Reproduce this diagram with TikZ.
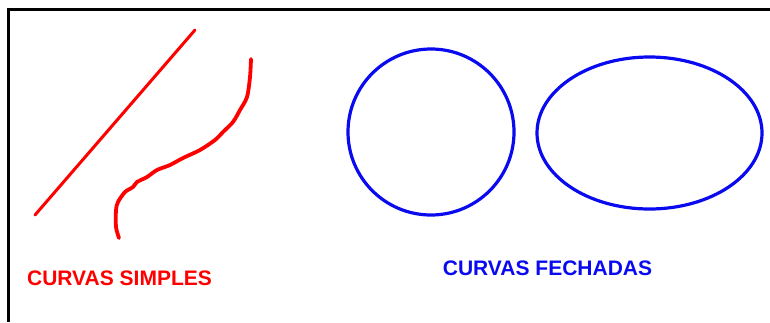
\documentclass[tikz,border=0pt]{standalone}
\usepackage{fontspec}
\setmainfont{Liberation Sans}
\definecolor{cred}{RGB}{255,0,0}
\definecolor{cblue}{RGB}{10,10,240}
\tikzset{
  redline/.style={draw=cred, line width=3pt, line cap=round},
  blueline/.style={draw=cblue, line width=3.2pt},
  label/.style={font=\bfseries\fontsize{21}{24}\selectfont, inner sep=0pt, anchor=base}
}
\begin{document}
\begin{tikzpicture}[x=1pt,y=-1pt]
\useasboundingbox (0,0) rectangle (770,322);
% frame
\draw[line width=2.7pt] (8.5,322) -- (8.5,9.5) -- (770,9.5);
% simple curves
\coordinate (l1) at (35,215);
\coordinate (l2) at (195,30);
\draw[redline] (l1) -- (l2);
\draw[redline, line width=3.8pt] plot[smooth, tension=0.5] coordinates {
 (251,59) (250,77) (247,97) (240,110) (233,122) (223,132) (215,140)
 (200,150) (183,158) (170,165) (157,170) (147,177) (137,182) (133,187)
 (125,192) (118,202) (116,210) (116,227) (119,238)};
% closed curves
\draw[blueline] (431,132) circle (83);
\draw[blueline] (649.5,133) ellipse [x radius=112.5, y radius=76];
% labels
\node[label, text=cred] (simples) at (119.5,285) {CURVAS SIMPLES};
\node[label, text=cblue] (fechadas) at (547.5,275) {CURVAS FECHADAS};
\end{tikzpicture}
\end{document}
